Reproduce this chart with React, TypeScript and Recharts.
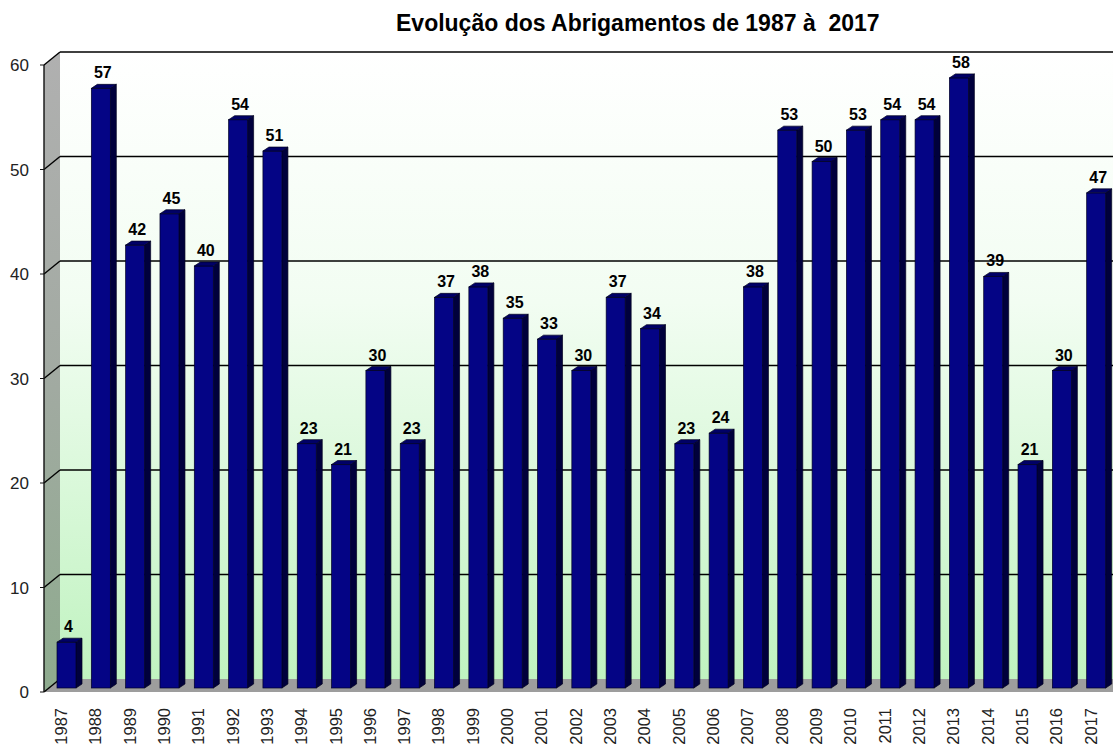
import React from 'react';
import { BarChart, Bar, XAxis, YAxis, CartesianGrid, ReferenceArea } from 'recharts';

const years = ['1987','1988','1989','1990','1991','1992','1993','1994','1995','1996','1997','1998','1999','2000','2001','2002','2003','2004','2005','2006','2007','2008','2009','2010','2011','2012','2013','2014','2015','2016','2017'];
const values = [4,57,42,45,40,54,51,23,21,30,23,37,38,35,33,30,37,34,23,24,38,53,50,53,54,54,58,39,21,30,47];
const yTicks = [0,10,20,30,40,50,60];
const boundaryTicks = years.map((_, i) => i).concat([years.length]);
const title = 'Evolução dos Abrigamentos de 1987 à  2017';

const data = years.map((y, i) => ({ year: y, value: values[i] }));

const FONT = '"Liberation Sans", Arial, Helvetica, sans-serif';
const DX = 16; // depth offset x
const DY = -13; // depth offset y

const Background = (p: any) => {
  const { x, y, width, height } = p;
  const b = y + height;
  return (
    <g>
      <defs>
        <linearGradient id="backGrad" x1="0" y1="0" x2="0" y2="1">
          <stop offset="0" stopColor="#ffffff" />
          <stop offset="0.4" stopColor="#f2fdf2" />
          <stop offset="1" stopColor="#c0f3c0" />
        </linearGradient>
        <linearGradient id="wallGrad" x1="0" y1="0" x2="0" y2="1">
          <stop offset="0" stopColor="#b0b0b0" />
          <stop offset="0.5" stopColor="#a2aaa2" />
          <stop offset="1" stopColor="#8eab8e" />
        </linearGradient>
      </defs>
      <rect x={x + DX} y={y + DY} width={width + 20} height={height} fill="url(#backGrad)" />
      <polygon points={`${x},${y} ${x + DX},${y + DY} ${x + DX},${b + DY} ${x},${b}`} fill="url(#wallGrad)" />
      <polygon points={`${x},${b} ${x + DX},${b + DY} ${x + width + DX + 20},${b + DY} ${x + width + 20},${b}`} fill="#9d9d9d" />
    </g>
  );
};

const GridLine = (p: any) => {
  const { x1, y1, x2, y, height } = p;
  const isBottom = typeof y === 'number' && typeof height === 'number' && Math.abs(y1 - (y + height)) < 1;
  return (
    <g key={p.key}>
      <line x1={x1} y1={y1} x2={x1 + DX} y2={y1 + DY} stroke="#000" strokeWidth={1.4} />
      {!isBottom && (
        <line x1={x1 + DX} y1={y1 + DY} x2={x2 + DX + 20} y2={y1 + DY} stroke="#000" strokeWidth={1.4} />
      )}
    </g>
  );
};

const Bar3D = (p: any) => {
  const { x, y, width, height, payload } = p;
  if (x == null || y == null) return null;
  const w = width;
  const ox = 5;
  const dx = 6;
  const dy = -4;
  const x0 = x + ox;
  const t = y - 8;
  const bt = y + height - 4;
  const v = payload && payload.value != null ? payload.value : p.value;
  return (
    <g>
      <polygon
        points={`${x0 + w},${t} ${x0 + w + dx},${t + dy} ${x0 + w + dx},${bt + dy} ${x0 + w},${bt}`}
        fill="#00003c" stroke="#000020" strokeWidth={0.7}
      />
      <rect x={x0} y={t} width={w} height={bt - t} fill="#040485" stroke="#000025" strokeWidth={0.7} />
      <polygon
        points={`${x0},${t} ${x0 + w},${t} ${x0 + w + dx},${t + dy} ${x0 + dx},${t + dy}`}
        fill="#000066" stroke="#000020" strokeWidth={0.7}
      />
      <text x={x0 + (w + dx) / 2 - 1} y={t - 10} textAnchor="middle" fontFamily={FONT} fontSize={16} fontWeight="bold" fill="#000">
        {v}
      </text>
    </g>
  );
};

const YearTick = (p: any) => {
  const { x, y, payload } = p;
  return (
    <text
      transform={`translate(${x},${y + 16}) rotate(-90)`}
      textAnchor="end"
      dy="0.35em"
      fontFamily={FONT}
      fontSize={16.5}
      fill="#222"
    >
      {payload.value}
    </text>
  );
};

export default function App() {
  return (
    <div style={{ position: 'absolute', left: 0, top: 0, width: 1113, height: 745, background: '#fff', fontFamily: FONT }}>
      <div
        style={{
          position: 'absolute', left: 396, top: 12, fontSize: 23, lineHeight: '23px',
          fontWeight: 'bold', whiteSpace: 'pre', color: '#000', fontFamily: FONT,
        }}
      >
        {title}
      </div>
      <BarChart width={1113} height={745} data={data} margin={{ top: 65, right: 5, left: 0, bottom: 0 }}>
        <ReferenceArea
          xAxisId="num" x1={0} x2={years.length} y1={0} y2={60}
          ifOverflow="visible" shape={Background} zIndex={-200}
        />
        <CartesianGrid xAxisId="num" vertical={false} horizontal={GridLine} stroke="#000" zIndex={-100} />
        <XAxis
          xAxisId="num" type="number" domain={[0, years.length]} ticks={boundaryTicks}
          height={0} tick={false} tickSize={5} axisLine={{ stroke: '#111', strokeWidth: 1.4 }}
          tickLine={{ stroke: '#111' }} allowDecimals={false}
        />
        <XAxis
          xAxisId="cat" dataKey="year" interval={0} height={53} axisLine={false} tickLine={false}
          tickSize={0} tickMargin={0} tick={<YearTick />}
        />
        <YAxis
          width={44} domain={[0, 60]} ticks={yTicks} tickSize={4} tickMargin={11}
          axisLine={{ stroke: '#111', strokeWidth: 1.4 }} tickLine={{ stroke: '#111' }}
          tick={{ fontSize: 17, fill: '#222', fontFamily: FONT }}
        />
        <Bar xAxisId="cat" dataKey="value" barSize={19} shape={Bar3D} isAnimationActive={false} />
      </BarChart>
    </div>
  );
}
